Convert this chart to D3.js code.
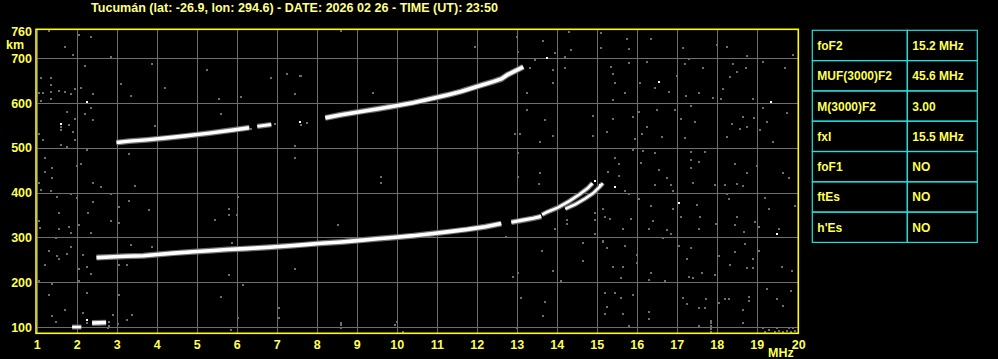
<!DOCTYPE html>
<html><head><meta charset="utf-8">
<script src="https://cdn.jsdelivr.net/npm/d3@7"></script>
<style>html,body{margin:0;padding:0;background:#000;}svg{display:block;}</style>
</head><body>
<script>
// ---------- data ----------
const titleText = "Tucumán (lat: -26.9, lon: 294.6) - DATE: 2026 02 26 - TIME (UT): 23:50";
const freqTicks = [1,2,3,4,5,6,7,8,9,10,11,12,13,14,15,16,17,18,19,20];
const heightTicks = [100,200,300,400,500,600,700];
const heightTop = 760;
const paramNames = ["foF2","MUF(3000)F2","M(3000)F2","fxI","foF1","ftEs","h'Es"];
const paramValues = ["15.2 MHz","45.6 MHz","3.00","15.5 MHz","NO","NO","NO"];

// echo traces [MHz, km]
const traceF_O = [[2.48,255],[2.8,256.5],[3.2,258],[3.65,259],[4.0,262],[4.4,265],[4.9,268],[5.4,271],[5.75,273],[6.2,275],[6.8,278],[7.25,281],[7.7,284],[8.1,287],[8.6,290],[9.0,293],[9.5,297],[9.9,300],[10.4,304],[10.9,309],[11.3,313],[11.75,318],[12.2,324],[12.6,331]];
const traceF_O2 = [[12.85,334],[13.1,338],[13.4,343],[13.6,347]];
const traceF_O3 = [[13.62,351],[13.75,357],[14.0,366],[14.3,381],[14.55,396],[14.75,409],[14.88,421]];
const traceF_X = [[14.2,364],[14.45,374],[14.7,387],[14.9,399],[15.07,414],[15.14,421]];
const trace2F_a = [[2.98,512],[3.3,515],[3.73,518],[4.2,522],[4.73,527],[5.3,533],[5.9,540],[6.3,545]];
const trace2F_b = [[6.5,548],[6.85,552]];
const trace2F_c = [[8.2,567],[8.6,574],[9.15,582],[9.5,587],[9.9,593],[10.4,601],[10.9,611],[11.25,618],[11.6,626],[12.1,640],[12.4,648],[12.6,654],[12.75,663],[12.95,672],[13.15,681]];
const traceE_a = [[1.87,100],[2.1,100]];
const traceE_b = [[2.37,109],[2.72,110]];

// scattered noise specks [MHz, km]
const noiseSpecks = [
[15.75,743],[16.34,743],[15.80,721],[17.14,724],[17.99,730],[18.24,726],[18.74,706],[19.89,707],[17.30,698],[19.14,692],
[15.34,681],[15.80,690],[16.24,692],[17.20,688],[17.64,679],[18.39,688],[18.72,679],[19.70,679],[15.39,666],[16.07,644],
[15.44,644],[16.99,661],[18.14,632],[18.32,659],[18.49,670],[17.53,622],[17.22,616],[16.78,625],[15.70,622],[15.39,608],
[16.45,633],[17.90,612],[18.09,610],[18.90,610],[15.40,564],[15.89,570],[16.05,580],[16.49,584],[16.95,584],[17.09,565],
[17.34,593],[17.45,558],[16.24,547],[16.11,531],[15.95,519],[16.61,525],[17.20,523],[18.24,525],[18.36,553],[18.57,543],
[18.74,547],[18.64,570],[18.93,566],[19.07,540],[19.24,558],[19.15,590],[19.74,577],[19.39,514],[15.24,536],[15.89,495],
[16.14,493],[16.45,489],[17.34,491],[17.34,473],[17.34,454],[17.55,469],[17.70,491],[16.09,467],[16.53,450],[18.45,465],
[18.99,460],[19.64,444],[19.78,433],[15.45,478],[15.53,465],[15.28,447],[15.53,437],[16.45,417],[16.84,417],[16.74,433],
[17.39,422],[17.95,417],[18.20,417],[18.49,419],[18.64,415],[18.74,443],[15.70,403],[16.90,403],[15.80,396],[16.05,386],
[16.34,371],[16.90,363],[17.49,372],[18.24,398],[18.30,386],[19.20,389],[19.28,363],[19.95,371],[15.15,363],[15.19,346],
[15.32,341],[15.85,341],[15.64,319],[16.39,337],[16.30,319],[16.74,316],[16.84,307],[17.10,346],[17.57,346],[17.55,319],
[17.97,331],[18.49,346],[18.45,328],[18.67,313],[18.95,335],[19.05,324],[19.54,319],[15.14,289],[15.24,276],[15.70,282],
[15.99,261],[15.99,242],[16.65,298],[17.03,282],[17.35,276],[17.25,252],[18.03,259],[18.45,268],[18.70,285],[18.90,251],
[19.03,270],[18.32,238],[18.74,231],[18.89,231],[19.61,233],[19.86,226],[15.39,235],[15.65,233],[15.59,209],[16.34,220],
[16.30,205],[16.70,203],[17.28,212],[17.39,209],[17.95,216],[17.61,221],[15.20,175],[15.45,175],[15.60,164],[15.89,171],
[15.24,144],[15.19,129],[15.64,129],[16.28,134],[16.30,117],[17.14,164],[17.72,162],[17.25,151],[17.55,142],[17.70,142],
[18.03,154],[18.20,162],[18.28,162],[18.78,168],[18.78,159],[18.65,139],[19.49,162],[19.24,186],[19.64,147],[19.85,181],
[15.80,103],[17.55,102],[17.84,114],[18.64,108],[19.15,98],[19.78,98],[17.84,89],[17.84,95],[17.84,102],[17.84,108],
[19.3,93],[19.45,90],[19.55,92],[19.65,89],[19.75,91],[19.85,90],[19.95,92],[19.5,97],[19.9,97],[19.2,90],
[1.30,761],[2.03,752],[2.34,748],[1.70,726],[1.88,707],[2.84,703],[2.20,683],[3.88,687],[5.23,674],[1.09,655],
[1.34,655],[1.34,640],[1.03,622],[1.15,622],[1.34,625],[1.53,628],[1.70,624],[1.84,620],[1.95,631],[2.09,633],
[1.34,610],[1.09,605],[2.38,620],[3.09,642],[4.19,634],[3.34,616],[5.53,610],[6.09,614],[6.84,657],[7.24,664],
[7.59,661],[7.44,620],[2.34,588],[1.74,581],[2.20,575],[1.95,564],[2.38,562],[1.59,547],[1.59,541],[1.80,551],
[1.88,536],[1.03,531],[1.15,517],[1.59,506],[1.74,503],[1.95,517],[2.24,495],[3.93,549],[5.59,575],[1.19,478],
[1.38,456],[2.09,465],[1.98,459],[1.20,447],[1.38,433],[1.03,422],[1.09,407],[1.34,404],[2.38,422],[2.59,413],
[3.44,415],[3.28,486],[7.44,504],[7.44,478],[1.49,391],[1.84,398],[1.98,389],[2.38,380],[2.84,398],[3.28,382],
[3.03,369],[3.78,361],[1.53,355],[2.28,355],[2.84,337],[3.03,333],[1.03,337],[1.07,320],[1.53,319],[1.78,324],
[1.84,309],[2.03,328],[2.34,311],[5.78,363],[5.45,340],[5.80,350],[5.98,350],[6.03,391],[1.48,298],[1.28,270],
[1.49,259],[1.53,252],[1.74,263],[1.84,278],[2.13,261],[2.24,233],[2.33,218],[2.05,229],[1.20,238],[3.03,238],
[3.23,238],[3.34,283],[3.88,278],[5.88,288],[7.45,229],[5.78,216],[1.03,203],[1.38,197],[2.03,203],[1.28,171],
[2.24,177],[3.03,171],[5.59,168],[6.13,194],[7.03,143],[1.69,138],[1.38,125],[1.47,112],[2.13,132],[2.90,127],
[3.38,127],[3.23,116],[6.03,121],[2.78,97],[3.01,107],[2.25,108],[2.55,104],[2.80,103],[2.80,112],
[8.58,761],[11.94,726],[13.0,747],[13.03,715],[13.63,739],[13.94,712],[14.19,703],[14.33,718],[14.30,759],[15.09,757],
[15.09,722],[13.44,696],[13.33,679],[13.90,674],[14.19,679],[13.88,644],[13.23,622],[13.23,584],[13.69,562],[14.88,571],
[9.40,622],[7.57,660],[12.94,531],[13.07,531],[13.58,514],[13.88,526],[14.88,526],[15.23,536],[13.03,489],[13.03,436],
[13.58,445],[13.55,419],[9.58,434],[9.58,421],[8.53,328],[12.73,302],[13.94,319],[14.23,340],[14.23,331],[14.94,354],
[14.94,339],[14.94,308],[15.15,363],[15.15,291],[13.61,270],[14.63,288],[14.63,248],[13.88,226],[14.08,203],[12.90,212],
[13.03,220],[15.19,175],[15.23,144],[15.19,129],[13.69,157],[13.63,125],[13.08,164],[8.58,104],[8.58,97],[8.58,110],
[9.98,112],[12.98,97],[5.83,93],[10.15,88],[9.95,105],[7.05,121],[7.6,552],[7.75,556],[6.35,542],[6.95,553]
];
const whiteSpecks = [[16.55,646],[19.34,603],[15.44,413],[15.07,417],[17.04,378],[19.49,307],[2.23,603],[1.59,553],[13.73,700],[7.57,558],[2.24,116],[14.95,426]];

// ---------- layout ----------
const W = 998, H = 359;
const plot = {left: 36, right: 798.3, top: 29.3, bottom: 333.3};
const x = d3.scaleLinear().domain([1,20]).range([37.3, 797.3]);
const y = d3.scaleLinear().domain([86,765]).range([333.3, 29.2]);

const svg = d3.select("body").append("svg").attr("width", W).attr("height", H)
  .style("background", "#000");

const labelColor = "#ffff55";
const fontFam = "'Liberation Sans', Arial, sans-serif";

// title
svg.append("text").attr("x", 91).attr("y", 11.5)
  .attr("fill", "#ffff88").attr("font-family", fontFam).attr("font-weight", "bold")
  .attr("font-size", 12).attr("textLength", 407).attr("lengthAdjust", "spacingAndGlyphs")
  .text(titleText);

// grid
const grid = svg.append("g").attr("stroke", "#6e6e6e").attr("stroke-width", 1);
grid.selectAll("line.v").data(freqTicks.slice(0, -1)).join("line")
  .attr("x1", d => Math.round(x(d)) + 0.5).attr("x2", d => Math.round(x(d)) + 0.5)
  .attr("y1", plot.top).attr("y2", plot.bottom);
grid.selectAll("line.h").data(heightTicks).join("line")
  .attr("x1", plot.left).attr("x2", plot.right)
  .attr("y1", d => Math.round(y(d)) + 0.5).attr("y2", d => Math.round(y(d)) + 0.5);

// noise
svg.append("g").attr("fill", "#6e6e6e").selectAll("rect").data(noiseSpecks).join("rect")
  .attr("x", d => Math.round(x(d[0])) - 1).attr("y", d => Math.round(y(d[1])) - 1)
  .attr("width", 2).attr("height", 2);

// traces
const line = d3.line().x(d => x(d[0])).y(d => y(d[1]));
const traces = [
  {d: traceF_O, w: 3.6}, {d: traceF_O2, w: 3.2}, {d: traceF_O3, w: 2.6}, {d: traceF_X, w: 2.4},
  {d: trace2F_a, w: 3.4}, {d: trace2F_b, w: 3.0}, {d: trace2F_c, w: 3.6},
  {d: traceE_a, w: 2.6}, {d: traceE_b, w: 3.4}
];
const tg = svg.append("g").attr("fill", "none").attr("stroke-linecap", "butt");
tg.selectAll("path.halo").data(traces).join("path")
  .attr("d", t => line(t.d)).attr("stroke", "#707070").attr("stroke-width", t => t.w + 2.4);
tg.selectAll("path.core").data(traces).join("path")
  .attr("d", t => line(t.d)).attr("stroke", "#ffffff").attr("stroke-width", t => t.w);

svg.append("g").attr("fill", "#fff").selectAll("rect").data(whiteSpecks).join("rect")
  .attr("x", d => Math.round(x(d[0])) - 1).attr("y", d => Math.round(y(d[1])) - 1)
  .attr("width", 2).attr("height", 2);

// frame
svg.append("rect").attr("x", plot.left).attr("y", plot.top)
  .attr("width", plot.right - plot.left).attr("height", plot.bottom - plot.top)
  .attr("fill", "none").attr("stroke", "#ffff00").attr("stroke-width", 1.6);

// x tick labels
svg.append("g").selectAll("text").data(freqTicks).join("text")
  .attr("x", d => x(d) + (d === 20 ? 1.5 : 0)).attr("y", 349)
  .attr("text-anchor", "middle").attr("fill", labelColor)
  .attr("font-family", fontFam).attr("font-weight", "bold").attr("font-size", 12.5)
  .text(d => d);
svg.append("text").attr("x", 768).attr("y", 357).attr("fill", labelColor)
  .attr("font-family", fontFam).attr("font-weight", "bold").attr("font-size", 12.5).text("MHz");

// y tick labels
svg.append("g").selectAll("text").data(heightTicks.concat([heightTop])).join("text")
  .attr("x", 32).attr("y", d => y(d) + 4.5)
  .attr("text-anchor", "end").attr("fill", labelColor)
  .attr("font-family", fontFam).attr("font-weight", "bold").attr("font-size", 12.5)
  .text(d => d);
svg.append("text").attr("x", 6).attr("y", 49).attr("fill", labelColor)
  .attr("font-family", fontFam).attr("font-weight", "bold").attr("font-size", 12.5).text("km");

// parameter table
const tbl = {left: 812.3, mid: 907.3, right: 977.3, top: 30.3, rowH: 30.3};
const tg2 = svg.append("g");
const rows = tg2.selectAll("g").data(paramNames.map((n, i) => ({n, v: paramValues[i], i}))).join("g")
  .attr("transform", d => `translate(0,${tbl.top + d.i * tbl.rowH})`);
rows.append("rect").attr("x", tbl.left).attr("y", 0).attr("width", tbl.mid - tbl.left).attr("height", tbl.rowH)
  .attr("fill", "none").attr("stroke", "#22dddd").attr("stroke-width", 1.2);
rows.append("rect").attr("x", tbl.mid).attr("y", 0).attr("width", tbl.right - tbl.mid).attr("height", tbl.rowH)
  .attr("fill", "none").attr("stroke", "#22dddd").attr("stroke-width", 1.2);
rows.append("text").attr("x", tbl.left + 5).attr("y", tbl.rowH / 2 + 4.5).attr("fill", labelColor)
  .attr("font-family", fontFam).attr("font-weight", "bold").attr("font-size", 12).text(d => d.n);
rows.append("text").attr("x", tbl.mid + 5).attr("y", tbl.rowH / 2 + 4.5).attr("fill", labelColor)
  .attr("font-family", fontFam).attr("font-weight", "bold").attr("font-size", 12).text(d => d.v);
</script>
</body></html>
